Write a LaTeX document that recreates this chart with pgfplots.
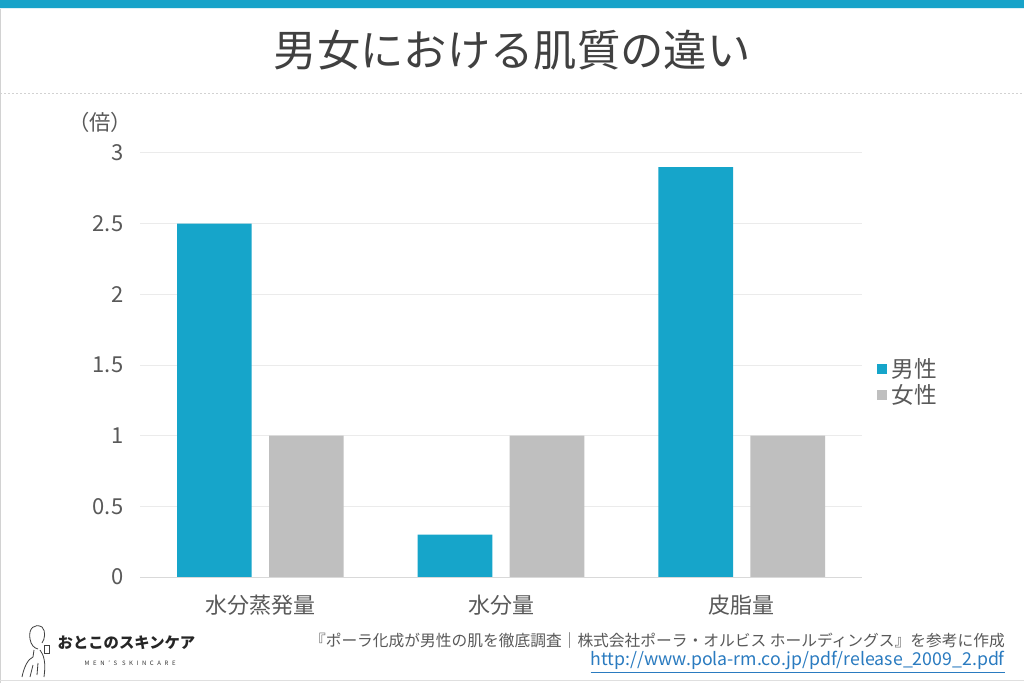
\documentclass[border=0pt]{standalone}
\usepackage{fontspec}
\setmainfont{Noto Sans CJK JP}
\usepackage{pgfplots}
\pgfplotsset{compat=1.18}
\definecolor{band}{HTML}{17A3C9}
\definecolor{malec}{HTML}{16A5CA}
\definecolor{femalec}{HTML}{BFBFBF}
\definecolor{textgray}{HTML}{595959}
\definecolor{titlegray}{HTML}{404040}
\definecolor{gridc}{HTML}{EBEBEB}
\definecolor{urlc}{HTML}{2A7BC0}
\begin{document}
\begin{tikzpicture}[x=0.75pt,y=0.75pt]
\useasboundingbox (0,0) rectangle (1024,683);
\fill[white] (0,0) rectangle (1024,683);
\fill[band] (0,675) rectangle (1024,683);
\draw[band!15, line width=0.75pt] (0,674) -- (1024,674);
\draw[gray!35, line width=1pt] (0.6,0) -- (0.6,674);
\draw[gray!25, line width=0.75pt] (0,3) -- (1024,3);
\draw[gray!35, line width=0.6pt, dash pattern=on 1.5pt off 1.5pt] (0,590) -- (1024,590);
\node[text=titlegray, font=\fontsize{32.5}{38}\selectfont] at (512,633) {男女における肌質の違い};
\node[text=textgray, font=\fontsize{16}{19}\selectfont] at (100,561) {（倍）};
\begin{axis}[
  at={(105pt,79.5pt)}, anchor=south west,
  scale only axis, width=541.5pt, height=318pt,
  xmin=-0.5, xmax=2.5, ymin=0, ymax=3,
  axis line style={draw=none},
  major tick length=0pt,
  ymajorgrids, grid style={color=gridc, line width=0.75pt},
  xtick={0,1,2}, xticklabels={水分蒸発量,水分量,皮脂量},
  ytick={0,0.5,1,1.5,2,2.5,3},
  yticklabels={0,0.5,1,1.5,2,2.5,3},
  tick label style={font=\fontsize{16.5}{19}\selectfont, text=textgray},
  yticklabel style={xshift=-9pt},
  xticklabel style={yshift=-10pt},
  ybar, bar width=56pt,
  clip=false,
  legend style={at={(1.021,0.46)}, anchor=west, draw=none, fill=none,
    font=\fontsize{17}{20}\selectfont, text=textgray, row sep=0pt,
    inner sep=0pt, nodes={inner xsep=3pt}},
]
\addplot[fill=malec, draw=none, bar shift=-34.5pt,
  legend image code/.code={\fill[malec] (0pt,-3.75pt) rectangle (7.5pt,3.75pt);}]
  coordinates {(0,2.5) (1,0.3) (2,2.9)};
\addplot[fill=femalec, draw=none, bar shift=34.5pt,
  legend image code/.code={\fill[femalec] (0pt,-3.75pt) rectangle (7.5pt,3.75pt);}]
  coordinates {(0,1) (1,1) (2,1)};
\draw[gray!30, line width=0.75pt] (axis cs:-0.5,0) -- (axis cs:2.5,0);
\legend{男性,女性}
\end{axis}
% footer
\node[anchor=east, inner sep=0pt, text=textgray, font=\fontsize{11.8}{14}\selectfont] at (1005,42)
  {『ポーラ化成が男性の肌を徹底調査｜株式会社ポーラ・オルビス ホールディングス』を参考に作成};
\node[anchor=east, inner sep=0pt, text=urlc, font=\fontsize{13.3}{15}\selectfont] at (1005,21)
  {\underline{http://www.pola-rm.co.jp/pdf/release\_2009\_2.pdf}};
% logo
\node[anchor=west, text=black!85, font=\bfseries\fontsize{11.5}{13}\selectfont] at (53,40) {おとこのスキンケア};
\node[anchor=west, text=black!80, font=\fontsize{4.5}{5}\selectfont\addfontfeatures{LetterSpace=60}] at (80,20) {MEN'S SKINCARE};
\begin{scope}[draw=black!75, line width=0.6pt]
\draw (30,44) .. controls (28,55) and (35,60) .. (42,56) .. controls (46,52) and (45,44) .. (42,40);
\draw (30,44) .. controls (31,38) and (34,35) .. (38,34);
\draw (34,33) -- (33,26) .. controls (28,24) and (24,16) .. (22,6);
\draw (40,33) .. controls (44,28) and (46,20) .. (44,6);
\draw (44,38) rectangle (49,30);
\draw (33,18) -- (30,6);
\draw (38,20) -- (37,8);
\end{scope}
\end{tikzpicture}
\end{document}
